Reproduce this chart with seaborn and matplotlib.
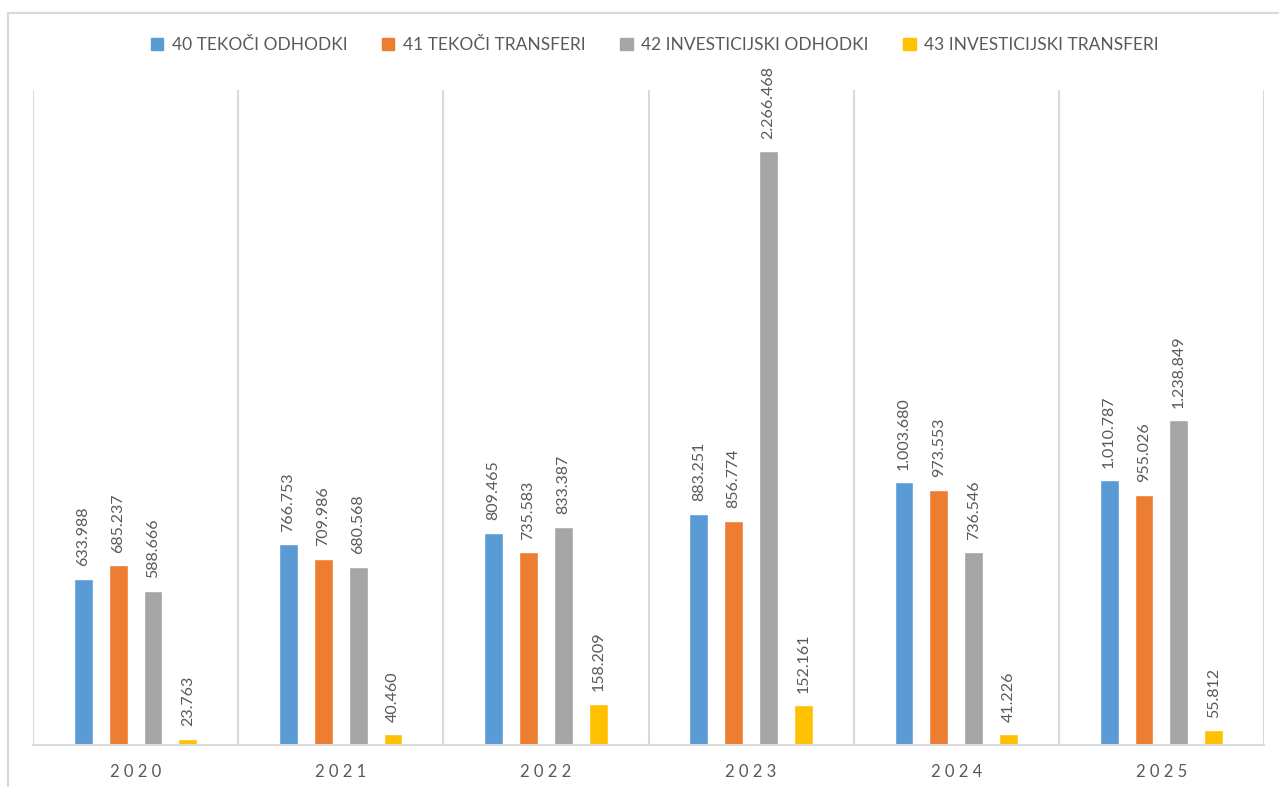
import numpy as np
import pandas as pd
import matplotlib.pyplot as plt
from matplotlib.lines import Line2D
import seaborn as sns

# chart data
years = ['2020', '2021', '2022', '2023', '2024', '2025']
series = ['40 TEKOČI ODHODKI', '41 TEKOČI TRANSFERI', '42 INVESTICIJSKI ODHODKI', '43 INVESTICIJSKI TRANSFERI']
tekoci_odhodki = [633988, 766753, 809465, 883251, 1003680, 1010787]
tekoci_transferi = [685237, 709986, 735583, 856774, 973553, 955026]
invest_odhodki = [588666, 680568, 833387, 2266468, 736546, 1238849]
invest_transferi = [23763, 40460, 158209, 152161, 41226, 55812]
colors = ['#5B9BD5', '#ED7D31', '#A5A5A5', '#FFC000']

# long table for seaborn
rows = []
for name, vals in zip(series, [tekoci_odhodki, tekoci_transferi, invest_odhodki, invest_transferi]):
    for y, v in zip(years, vals):
        rows.append({'year': y, 'series': name, 'value': v})
df = pd.DataFrame(rows)

sns.set_style('white')
plt.rcParams['font.family'] = ['Lato', 'DejaVu Sans']

fig = plt.figure(figsize=(12.79, 7.87), dpi=100)
ax = fig.add_axes([33 / 1279, 1 - 745 / 787, (1264 - 33) / 1279, (745 - 90) / 787])

sns.barplot(data=df, x='year', y='value', hue='series', hue_order=series,
            palette=colors, width=0.68, gap=0.46, saturation=1, ax=ax, legend=False)

text_grey = '#595959'
for cont in ax.containers:
    ax.bar_label(cont, labels=[f'{v:,.0f}'.replace(',', '.') for v in cont.datavalues],
                 rotation=90, padding=9, fontsize=11.5, color=text_grey)

ax.set_xlim(-0.5, len(years) - 0.5)
ax.set_ylim(0, 2500000)
ax.set_yticks([])
ax.set_xlabel('')
ax.set_ylabel('')
ax.set_xticks(range(len(years)))
ax.set_xticklabels([' '.join(y) for y in years], fontsize=12, color=text_grey)
ax.tick_params(axis='x', length=0, pad=14)
ax.set_xticks(np.arange(-0.5, len(years)), minor=True)
ax.tick_params(axis='x', which='minor', length=0)
ax.grid(axis='x', which='minor', color='#D9D9D9', linewidth=1.5)
ax.grid(axis='x', which='major', visible=False)
for s in ['top', 'right', 'left']:
    ax.spines[s].set_visible(False)
ax.spines['bottom'].set_color('#D9D9D9')
ax.spines['bottom'].set_linewidth(1.5)

# legend at the top
handles = [plt.Rectangle((0, 0), 1, 1, color=c) for c in colors]
fig.legend(handles, series, loc='center', bbox_to_anchor=(655 / 1279, 1 - 45 / 787), ncol=4,
           frameon=False, fontsize=12.5, handlelength=0.7, handleheight=0.7,
           handletextpad=0.5, columnspacing=2.0, labelcolor=text_grey)

# outer chart border (left and top)
fig.add_artist(Line2D([8 / 1279, 8 / 1279], [0, 1 - 13 / 787], color='#D9D9D9', linewidth=1.5))
fig.add_artist(Line2D([8 / 1279, 1], [1 - 13 / 787, 1 - 13 / 787], color='#D9D9D9', linewidth=1.5))

plt.savefig('out.png', dpi=100)
